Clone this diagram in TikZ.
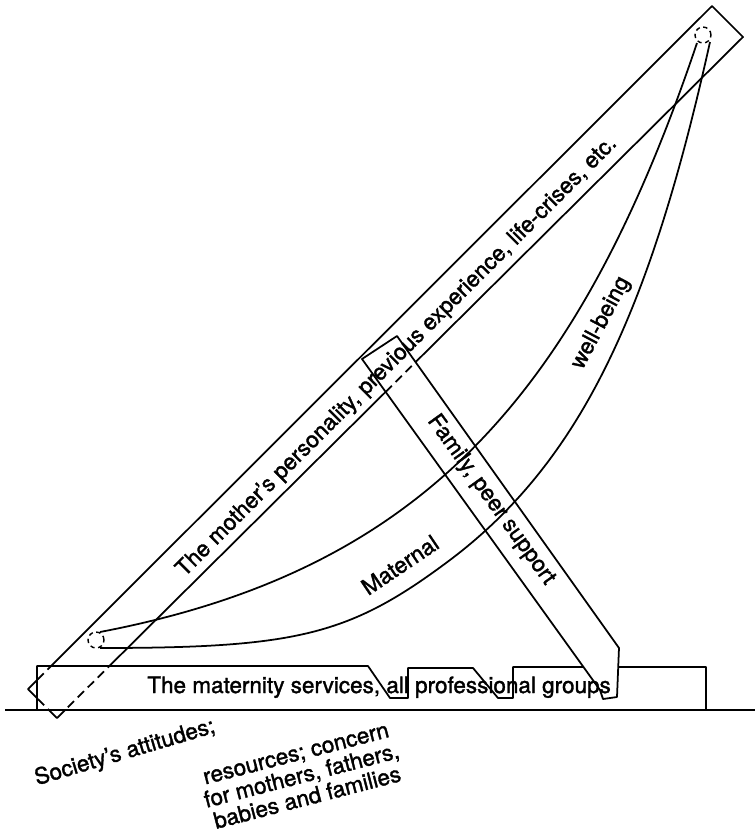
\documentclass[tikz,border=0pt]{standalone}
\usepackage{fontspec}
\setmainfont{TeX Gyre Heros}
\newfontfamily\lblfont{TeX Gyre Heros}[Ligatures=TeX, FakeBold=1.5]
\tikzset{
  edge/.style={line width=1pt, line join=round},
  hidden/.style={edge, dash pattern=on 5pt off 3pt},
  capring/.style={line width=0.8pt, dash pattern=on 2.5pt off 2pt},
  lbl/.style={font=\lblfont\fontsize{12.8}{13}\selectfont, inner sep=0pt}
}

\begin{document}
\begin{tikzpicture}[x=0.02cm, y=-0.02cm]
\useasboundingbox (0,0) rectangle (755,833);
% long plank
\coordinate (pA) at (28,689);
\coordinate (pB) at (57,718);
\coordinate (pC) at (743,37);
\coordinate (pD) at (712,6);
% family plank
\coordinate (fA) at (362,359);
\coordinate (fB) at (397,336);
\coordinate (fC) at (619,648);
\coordinate (fD) at (617,697);
\coordinate (fE) at (603,699);
\coordinate (fF) at (600,690);
% services box, top right
\coordinate (bM) at (513,667);
\coordinate (bR) at (706,667);
\coordinate (x1) at (intersection of pB--pC and fA--fF);
\coordinate (x2) at (intersection of pB--pC and fB--fC);
\coordinate (g1) at (intersection of bM--bR and fA--fF);
\coordinate (g2) at (intersection of bM--bR and fC--fD);
% ends of the band
\coordinate (lo) at (96,640);
\coordinate (hi) at (703,35);

\draw[edge] (x2) -- (pC) -- (pD) -- (pA) -- (pB) -- (x1);
\draw[hidden] (x1) -- (x2);

\fill[white] (37,710) -- (37,666) -- (368,666) -- (390,698) -- (408,698) -- (408,668)
  -- (473,668) -- (498,698) -- (513,698) -- (bM) -- (bR) -- (706,710) -- cycle;
\begin{scope}
  \clip (37,666) rectangle (706,710);
  \draw[hidden] (pA) -- (pB) -- (pC) -- (pD) -- cycle;
\end{scope}
\draw[edge] (37,710) -- (37,666) -- (368,666) -- (390,698) -- (408,698) -- (408,668)
  -- (473,668) -- (498,698) -- (513,698) -- (bM) -- (g1);
\draw[edge] (g2) -- (bR) -- (706,710);
\draw[edge] (5,710) -- (755,710);

\draw[edge] (fA) -- (fB) -- (fC) -- (fD) -- (fE) -- (fF) -- cycle;

% maternal well-being
\draw[edge] (100,632) .. controls (419,571) and (577,399) .. (697,43);
\draw[edge] (100,648) .. controls (298,648) and (350,635) .. (450,560)
  .. controls (580,462) and (650,313) .. (710,42);
\draw[capring] (lo) circle[radius=0.16cm];
\draw[capring] (hi) circle[radius=0.16cm];

\node[lbl, rotate=45] (mother) at (397,357) {The mother's personality, previous experience, life-crises, etc.};
\node[lbl, rotate=-54.3] (family) at (491,500) {Family, peer support};
\node[lbl, rotate=34] (maternal) at (400,565) {Maternal};
\node[lbl, rotate=62] (wellbeing) at (601,323) {well-being};
\node[lbl, anchor=base west] (services) at (147,693) {The maternity services, all professional groups};
\node[lbl, rotate=16.5] (society) at (125,753) {Society's attitudes;};
\node[lbl, rotate=14.5, align=center] (resources) at (302,777) {resources; concern\\for mothers, fathers,\\babies and families};
\end{tikzpicture}
\end{document}
